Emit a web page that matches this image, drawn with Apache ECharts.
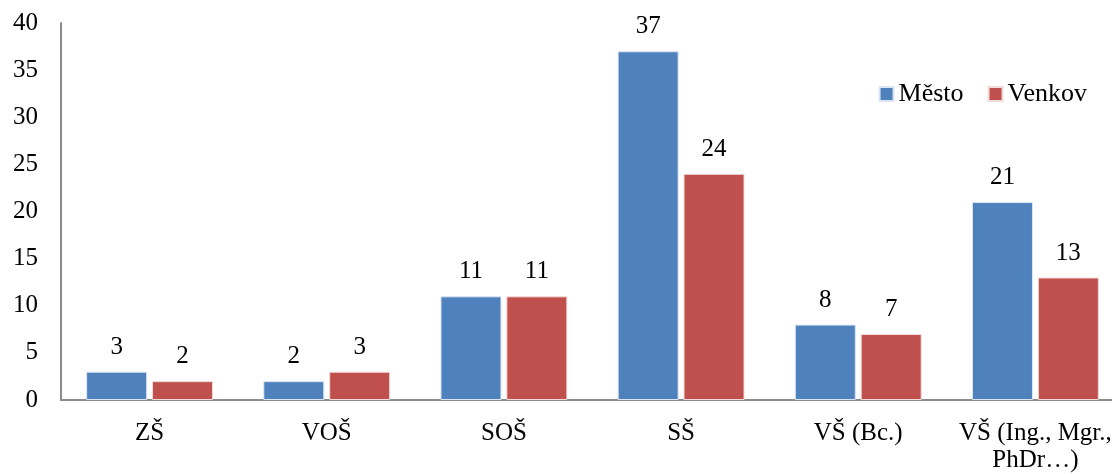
<!DOCTYPE html>
<html><head><meta charset="utf-8">
<script src="https://cdn.jsdelivr.net/npm/echarts@6/dist/echarts.min.js"></script>
<style>html,body{margin:0;padding:0;background:#fff}#c{width:1112px;height:474px}</style>
</head><body><div id="c"></div>
<script>
const categories = ['ZŠ','VOŠ','SOŠ','SŠ','VŠ (Bc.)','VŠ (Ing., Mgr.,\nPhDr…)'];
const mesto = [3,2,11,37,8,21];
const venkov = [2,3,11,24,7,13];
const yTicks = {min:0,max:40,interval:5};
const font = 'Liberation Serif, Times New Roman, serif';
const chart = echarts.init(document.getElementById('c'));
const lbl = {show:true,position:'top',distance:12,color:'#000',fontFamily:font,fontSize:25};
chart.setOption({
  animation:false,
  textStyle:{fontFamily:font},
  grid:{left:61,width:1063,top:23,height:377,containLabel:false,outerBoundsMode:'none'},
  legend:{right:20,top:76,itemWidth:14,itemHeight:14,itemGap:24,icon:'rect',
    textStyle:{fontFamily:font,fontSize:26,color:'#000'},data:['Město','Venkov']},
  xAxis:{type:'category',data:categories,
    axisLine:{lineStyle:{color:'#8c8c8c',width:2}},axisTick:{show:false},
    axisLabel:{color:'#000',fontFamily:font,fontSize:25,margin:20,lineHeight:27,interval:0}},
  yAxis:{type:'value',min:yTicks.min,max:yTicks.max,interval:yTicks.interval,
    splitLine:{show:false},axisTick:{show:false},
    axisLine:{show:true,lineStyle:{color:'#8c8c8c',width:2}},
    axisLabel:{color:'#000',fontFamily:font,fontSize:25,margin:23}},
  series:[
    {name:'Město',type:'bar',data:mesto,barWidth:61,barGap:'8%',
     itemStyle:{color:'#4F81BD',borderColor:'#dbe5f3',borderWidth:1},label:lbl},
    {name:'Venkov',type:'bar',data:venkov,barWidth:61,
     itemStyle:{color:'#C0504D',borderColor:'#f2dcdb',borderWidth:1},label:lbl}
  ]
});
</script></body></html>
